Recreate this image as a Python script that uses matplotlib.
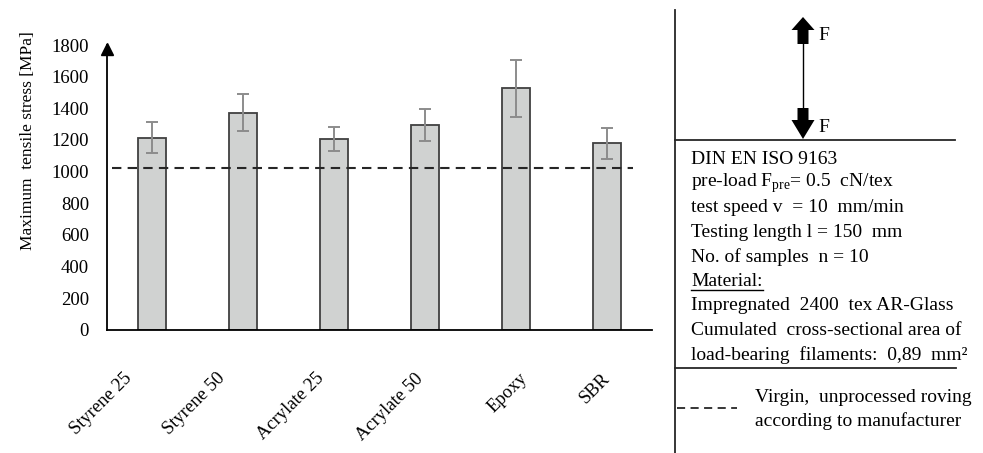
import matplotlib
matplotlib.use("Agg")
import matplotlib.pyplot as plt
import matplotlib.transforms as mtransforms
from matplotlib.patches import FancyArrow
import numpy as np

plt.rcParams['font.family'] = ['Liberation Serif', 'DejaVu Serif']

# data
coatings = ['Styrene 25', 'Styrene 50', 'Acrylate 25', 'Acrylate 50', 'Epoxy', 'SBR']
stress = [1215, 1372, 1207, 1292, 1527, 1180]
stress_sd = [97, 116, 78, 101, 180, 98]
virgin = 1025

info_lines = ['DIN EN ISO 9163',
              r'pre-load F$_{\mathregular{pre}}$= 0.5  cN/tex',
              'test speed v  = 10  mm/min',
              'Testing length l = 150  mm',
              'No. of samples  n = 10',
              'Material:',
              'Impregnated  2400  tex AR-Glass',
              'Cumulated  cross-sectional area of',
              'load-bearing  filaments:  0,89  mm²']
legend_text = ['Virgin,  unprocessed roving', 'according to manufacturer']

fs = 13.5
W, H = 983, 453
fig = plt.figure(figsize=(W / 100, H / 100), dpi=100)
ax = fig.add_axes([107 / W, 1 - 330 / H, (652 - 107) / W, (330 - 45) / H])

x = np.arange(len(coatings))
ax.bar(x, stress, width=0.31, color='#d0d2d1', edgecolor='#404040', linewidth=1.3, zorder=2)
ax.errorbar(x, stress, yerr=stress_sd, fmt='none', ecolor='#8c8c8c', elinewidth=1.4,
            capsize=4, capthick=1.4, zorder=3)
ax.hlines(virgin, -0.45, 5.29, colors='#262626', linestyles=(0, (4.5, 3)), linewidth=1.5, zorder=4)

ax.set_xlim(-0.5, 5.5)
ax.set_ylim(0, 1800)
ax.set_yticks(np.arange(0, 1801, 200))
ax.tick_params(axis='y', length=0, pad=13, labelsize=fs)
ax.tick_params(axis='x', length=0, pad=0, labelsize=13.3)
ax.set_xticks(x, coatings, rotation=45, ha='right', va='center', rotation_mode='anchor')
# the original spreads its slanted labels a bit unevenly
shift_px = [-23, -21, -13, -4, 9, 1]
for lab, dx in zip(ax.get_xticklabels(), shift_px):
    off = mtransforms.ScaledTranslation(dx / 100, -46 / 100, fig.dpi_scale_trans)
    lab.set_transform(lab.get_transform() + off)

for s in ['top', 'right']:
    ax.spines[s].set_visible(False)
for s in ['left', 'bottom']:
    ax.spines[s].set_linewidth(1.3)
    ax.spines[s].set_color('black')
ax.plot([0], [0.985], marker='^', markersize=8, color='black', transform=ax.transAxes, clip_on=False)

ax.set_ylabel('Maximum  tensile stress [MPa]', fontsize=12.5, va='center')
ax.yaxis.set_label_coords(-0.145, 0.663)

# right-hand panel drawn in pixel coordinates
pa = fig.add_axes([0, 0, 1, 1], zorder=-1)
pa.set_xlim(0, W)
pa.set_ylim(H, 0)
pa.axis('off')

lc = '#262626'
pa.plot([675, 675], [10, H], color=lc, lw=1.3)
pa.plot([675, 955], [140, 140], color=lc, lw=1.3)
pa.plot([675, 956], [368, 368], color=lc, lw=1.3)

pa.plot([803, 803], [40, 112], color='black', lw=1)
pa.add_patch(FancyArrow(803, 44, 0, -27, width=11, head_width=23, head_length=13,
                        length_includes_head=True, color='black', lw=0))
pa.add_patch(FancyArrow(803, 108, 0, 31, width=11, head_width=23, head_length=19,
                        length_includes_head=True, color='black', lw=0))
pa.text(818, 36, 'F', fontsize=14, va='center', ha='left')
pa.text(818, 128, 'F', fontsize=14, va='center', ha='left')

texts = []
for i, line in enumerate(info_lines):
    texts.append(pa.text(691, 159 + i * 24.5, line, fontsize=14, va='center', ha='left'))

fig.canvas.draw()
bb = texts[5].get_window_extent().transformed(pa.transData.inverted())
pa.plot([bb.x0, bb.x1], [290, 290], color='black', lw=1)

pa.plot([677, 737], [408, 408], color=lc, lw=1.3, linestyle=(0, (4.5, 3)))
pa.text(755, 397, legend_text[0], fontsize=14, va='center', ha='left')
pa.text(755, 421, legend_text[1], fontsize=14, va='center', ha='left')

fig.savefig('out.png', dpi=100)
